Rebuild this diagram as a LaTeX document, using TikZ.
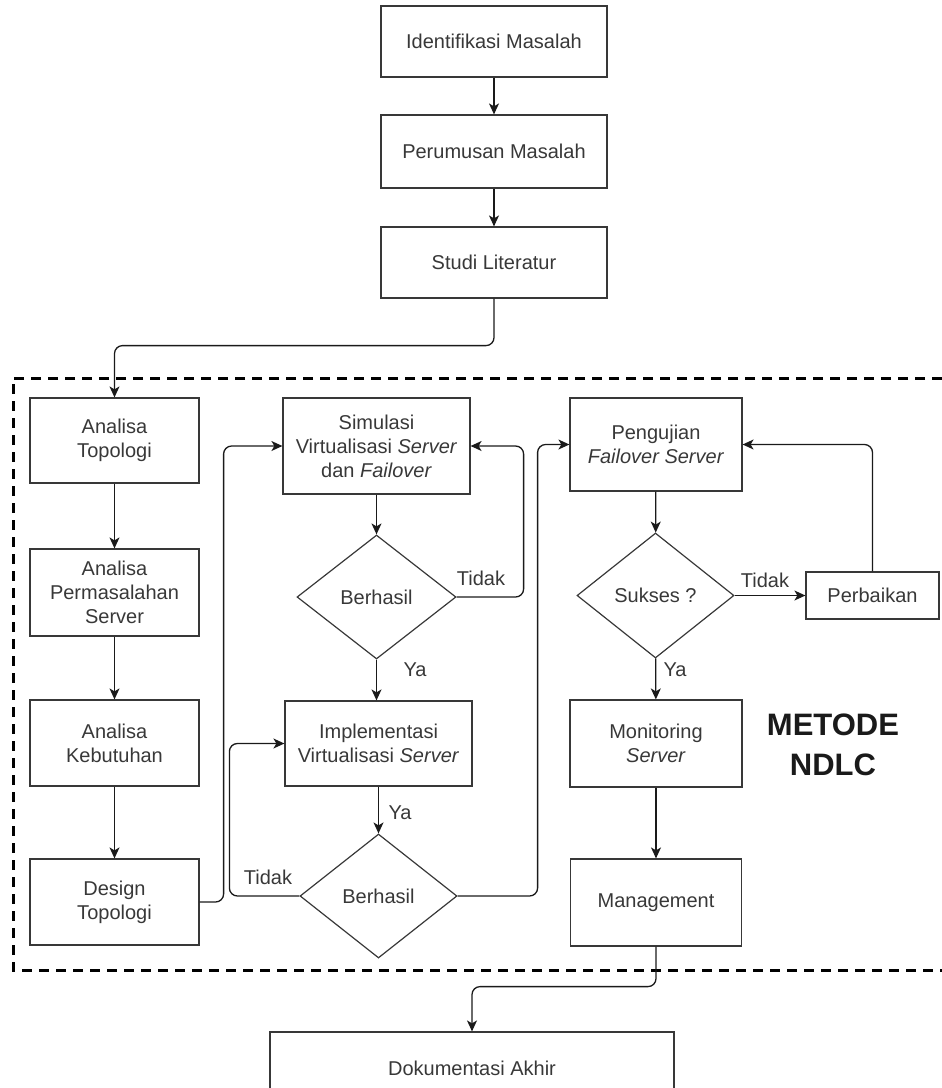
\documentclass[tikz,border=0pt]{standalone}
\usepackage{fontspec}
\setmainfont{Liberation Sans}
\usetikzlibrary{shapes.geometric,arrows.meta}
\definecolor{txt}{HTML}{383838}
\definecolor{edge}{HTML}{1A1A1A}

\begin{document}
\begin{tikzpicture}[x=1pt,y=-1pt,
  every node/.style={font=\fontsize{20}{24}\selectfont, text=txt},
  box/.style={draw=txt, line width=1.2pt, inner sep=0pt, align=center},
  decision/.style={diamond, draw=txt, line width=1.2pt, inner sep=0pt, align=center},
  flow/.style={draw=edge, line width=1.3pt, -{Stealth[length=11pt,width=10pt,inset=3pt]}, rounded corners=8pt},
  lbl/.style={inner sep=0pt},
  frame/.style={draw=black, line width=3pt, dash pattern=on 10pt off 7pt}]

\useasboundingbox (0,0) rectangle (942,1088);
\clip (0,0) rectangle (942,1088);

% preparation stages
\node[box, minimum width=226pt, minimum height=71pt] (ident) at (494,41.5) {Identifikasi Masalah};
\node[box, minimum width=226pt, minimum height=73pt] (perum) at (494,151.5) {Perumusan Masalah};
\node[box, minimum width=226pt, minimum height=71pt] (studi) at (494,262.5) {Studi Literatur};

% NDLC frame
\draw[frame] (942,378) -- (13,378) -- (13,970) -- (942,970);

% analysis column
\node[box, minimum width=169pt, minimum height=85pt] (antop) at (114.5,440.5) {Analisa\\Topologi};
\node[box, minimum width=169pt, minimum height=87pt] (anperm) at (114.5,592.5) {Analisa\\Permasalahan\\Server};
\node[box, minimum width=169pt, minimum height=86pt] (ankeb) at (114.5,743) {Analisa\\Kebutuhan};
\node[box, minimum width=169pt, minimum height=86pt] (destop) at (114.5,902) {Design\\Topologi};

% simulation / implementation column
\node[box, minimum width=187pt, minimum height=96pt] (sim) at (376.5,446) {Simulasi\\Virtualisasi \textit{Server}\\dan \textit{Failover}};
\node[decision, minimum width=159pt, minimum height=124pt] (dia1) at (376.5,597) {Berhasil};
\node[box, minimum width=187pt, minimum height=85pt] (impl) at (378.5,743.5) {Implementasi\\Virtualisasi \textit{Server}};
\node[decision, minimum width=157pt, minimum height=124pt] (dia2) at (378.5,896) {Berhasil};

% testing column
\node[box, minimum width=172pt, minimum height=93pt] (peng) at (656,444.5) {Pengujian\\\textit{Failover Server}};
\node[decision, minimum width=157pt, minimum height=125pt] (sukses) at (655.5,595.5) {Sukses ?};
\node[box, minimum width=133pt, minimum height=47pt] (perb) at (872.5,595.5) {Perbaikan};
\node[box, minimum width=172pt, minimum height=87pt] (monit) at (656,743.5) {Monitoring\\\textit{Server}};
\node[box, minimum width=171pt, minimum height=87pt] (manag) at (656,902.5) {Management};

\node[font=\bfseries\fontsize{31}{40}\selectfont, text=edge, align=center, inner sep=0pt] (ndlc) at (833,745) {METODE\\NDLC};

% closing stage
\node[box, minimum width=404pt, minimum height=72pt] (dok) at (472,1068) {Dokumentasi Akhir};

% connectors
\draw[flow] (ident) -- (perum);
\draw[flow] (perum) -- (studi);
\draw[flow] (studi.south) -- ++(0,47) -| (antop.north);
\draw[flow] (antop) -- (anperm);
\draw[flow] (anperm) -- (ankeb);
\draw[flow] (ankeb) -- (destop);
\draw[flow] (destop.east) -- ++(24,0) |- (sim.west);
\draw[flow] (sim) -- (dia1);
\draw[flow] (dia1.east) -- ++(67,0) |- (sim.east);
\draw[flow] (dia1.south) -- (dia1.south |- impl.north);
\draw[flow] (impl) -- (dia2);
\draw[flow] (dia2.west) -- ++(-70,0) |- (impl.west);
\draw[flow] (dia2.east) -- ++(80,0) |- (peng.west);
\draw[flow] (peng) -- (sukses);
\draw[flow] (sukses) -- (perb);
\draw[flow] (perb.north) |- (peng.east);
\draw[flow] (sukses) -- (monit);
\draw[flow] (monit) -- (manag);
\draw[flow] (manag.south) -- ++(0,40) -| (dok.north);

% branch labels
\node[lbl] (t1) at (481,578) {Tidak};
\node[lbl] (y1) at (415,670) {Ya};
\node[lbl] (y2) at (400,813) {Ya};
\node[lbl] (t2) at (268,877) {Tidak};
\node[lbl] (t3) at (765,580) {Tidak};
\node[lbl] (y3) at (675,670) {Ya};
\end{tikzpicture}
\end{document}
